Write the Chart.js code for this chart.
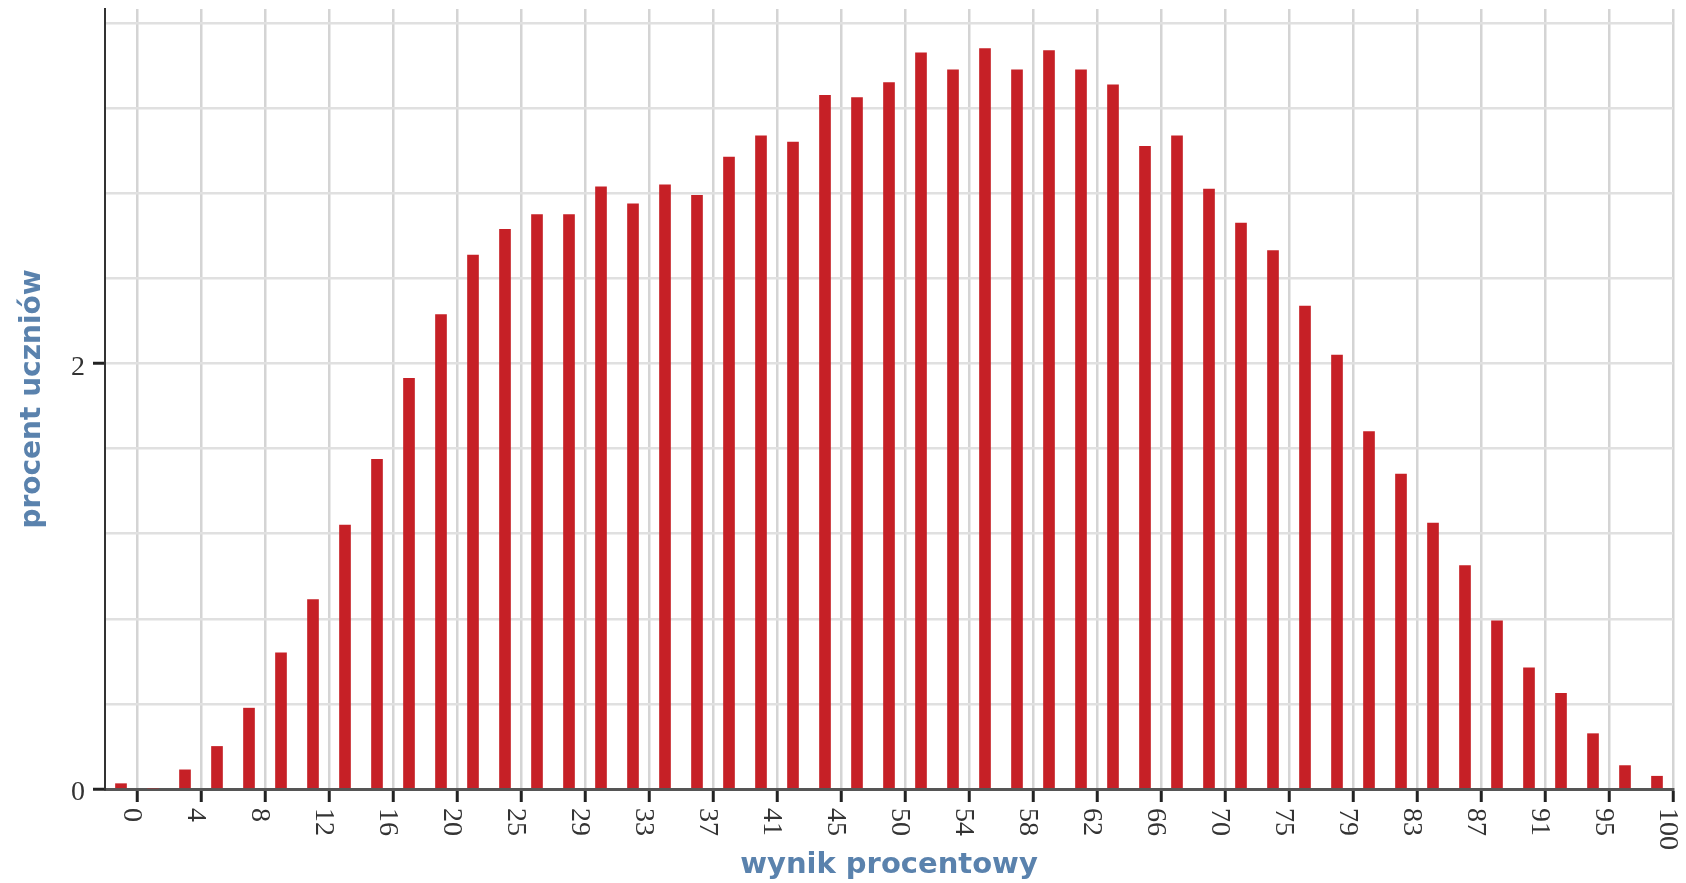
<!DOCTYPE html>
<html>
<head>
<meta charset="utf-8">
<script src="https://cdn.jsdelivr.net/npm/chart.js@4/dist/chart.umd.min.js"></script>
<style>
html,body{margin:0;padding:0;background:#fff;overflow:hidden}
#wrap{width:1686px;height:883px;position:relative}
canvas{display:block}
</style>
</head>
<body>
<div id="wrap"><canvas id="c" width="1686" height="883"></canvas></div>
<script>
// score categories (percent score of each bar)
const scoreCategories = [0, 2, 4, 6, 8, 10, 12, 14, 16, 18, 20, 22, 25, 27, 29, 31, 33, 35, 37, 39, 41, 43, 45, 47, 50,
  52, 54, 56, 58, 60, 62, 64, 66, 68, 70, 72, 75, 77, 79, 81, 83, 85, 87, 89, 91, 93, 95, 97, 100];
// percent of students per score
const shareOfStudents = [0.025, 0, 0.09, 0.20, 0.38, 0.64, 0.89, 1.24, 1.55, 1.93, 2.23, 2.51, 2.63, 2.70, 2.70, 2.83,
  2.75, 2.84, 2.79, 2.97, 3.07, 3.04, 3.26, 3.25, 3.32, 3.46, 3.38, 3.48, 3.38, 3.47, 3.38, 3.31, 3.02, 3.07, 2.82,
  2.66, 2.53, 2.27, 2.04, 1.68, 1.48, 1.25, 1.05, 0.79, 0.57, 0.45, 0.26, 0.11, 0.06];
// x tick labels (drawn at every second boundary between bars)
const xTickLabels = ['0','4','8','12','16','20','25','29','33','37','41','45','50','54','58','62','66','70','75','79','83','87','91','95','100'];
// y tick labels shown
const yTickLabels = [0, 2];

const xTitle = 'wynik procentowy';
const yTitle = 'procent uczniów';

const isLabeledY = v => yTickLabels.some(t => Math.abs(t - v) < 1e-6);

const xLabelPlugin = {
  id: 'xLabels',
  afterDraw(chart) {
    const s = chart.scales.x;
    const ctx = chart.ctx;
    ctx.save();
    ctx.font = "28px 'Liberation Serif', serif";
    ctx.fillStyle = '#333';
    ctx.textAlign = 'left';
    ctx.textBaseline = 'alphabetic';
    xTickLabels.forEach((lab, j) => {
      const px = s.getPixelForValue(2 * j + 0.5);
      ctx.save();
      ctx.translate(px, s.top + 19);
      ctx.rotate(Math.PI / 2);
      ctx.fillText(lab, 0, 13);
      ctx.restore();
    });
    ctx.restore();
  }
};

new Chart(document.getElementById('c'), {
  type: 'bar',
  data: {
    labels: scoreCategories,
    datasets: [{
      data: shareOfStudents,
      backgroundColor: '#c62026',
      borderWidth: 0,
      barThickness: 11
    }]
  },
  options: {
    responsive: false,
    devicePixelRatio: 1,
    animation: false,
    layout: { padding: { top: 9, right: 13, left: 0, bottom: 0 } },
    plugins: { legend: { display: false }, tooltip: { enabled: false } },
    scales: {
      x: {
        type: 'category',
        offset: true,
        grid: {
          offset: true,
          color: c => (c.type !== 'tick' || c.index % 2 === 1) ? '#d4d4d4' : 'rgba(0,0,0,0)',
          tickColor: c => (c.type !== 'tick' || c.index % 2 === 1) ? '#222' : 'rgba(0,0,0,0)',
          lineWidth: 2.5,
          tickLength: 13,
          tickWidth: 3,
          drawTicks: true
        },
        border: { color: '#555', width: 3 },
        ticks: { display: false, autoSkip: false },
        title: {
          display: true,
          text: xTitle,
          color: '#5a82ad',
          font: { family: "'DejaVu Sans', sans-serif", size: 29, weight: 'bold' },
          padding: { top: 0, bottom: 0 }
        },
        afterFit: s => { s.height = 94; s.paddingLeft = 0; s.paddingRight = 0; }
      },
      y: {
        min: 0,
        max: 3.666,
        grid: {
          color: '#e0e0e0',
          lineWidth: 2.5,
          tickLength: 12,
          tickWidth: 3,
          tickColor: c => (c.tick && isLabeledY(c.tick.value)) ? '#222' : 'rgba(0,0,0,0)'
        },
        border: { color: '#333', width: 2 },
        ticks: {
          stepSize: 0.4,
          includeBounds: false,
          padding: 8,
          labelOffset: 4,
          color: '#333',
          font: { family: "'Liberation Serif', serif", size: 28 },
          callback: v => isLabeledY(v) ? String(Math.round(v)) : ''
        },
        title: {
          display: true,
          text: yTitle,
          color: '#5a82ad',
          font: { family: "'DejaVu Sans', sans-serif", size: 28, weight: 'bold' },
          padding: { top: 16, bottom: 0 }
        },
        afterFit: s => { s.width = 105; s.paddingTop = 0; s.paddingBottom = 0; }
      }
    }
  },
  plugins: [xLabelPlugin]
});
</script>
</body>
</html>
